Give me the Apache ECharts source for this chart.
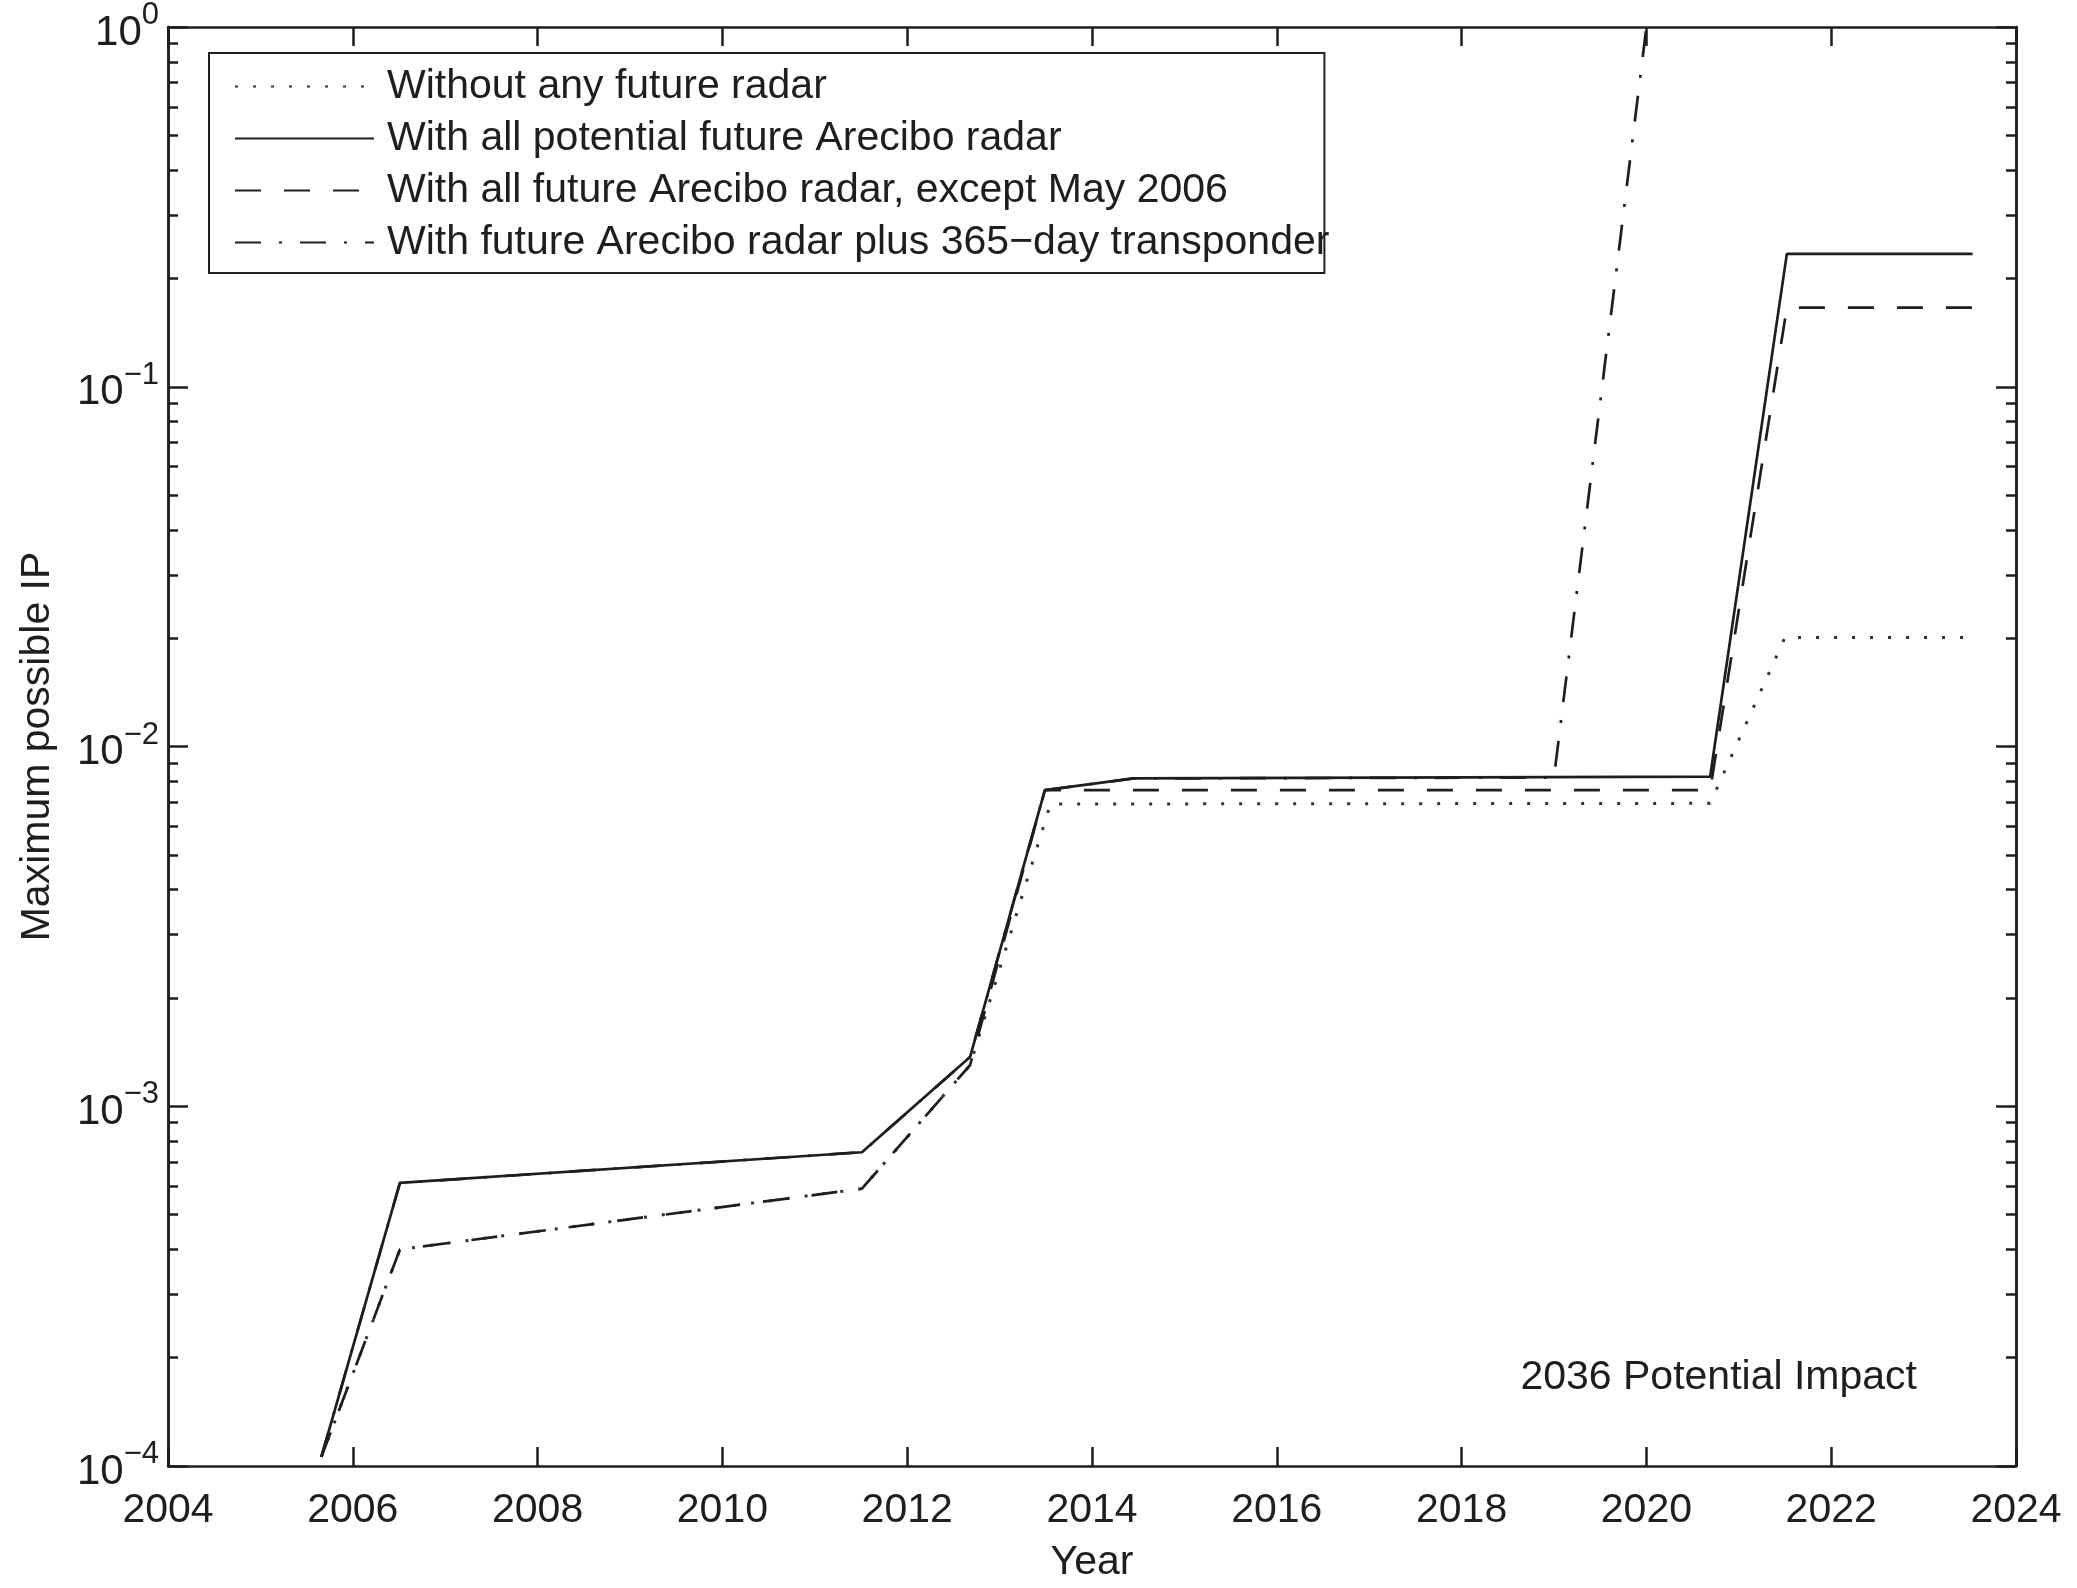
<!DOCTYPE html>
<html>
<head>
<meta charset="utf-8">
<script src="https://cdn.jsdelivr.net/npm/echarts@6/dist/echarts.min.js"></script>
<style>
  html, body { margin: 0; padding: 0; background: #fff; }
  #chart { width: 2077px; height: 1588px; }
</style>
</head>
<body>
<div id="chart"></div>
<script>
// values (year, maximum possible impact probability)
const noRadarYears = [2005.66, 2006.51, 2011.51, 2012.68, 2013.55, 2020.69, 2021.5, 2023.53];
const noRadarIP = [1.06e-4, 4.0e-4, 5.9e-4, 1.3e-3, 6.92e-3, 6.95e-3, 0.0201, 0.0201];

const allRadarYears = [2005.66, 2006.51, 2011.51, 2012.68, 2013.49, 2014.45, 2020.69, 2021.52, 2023.53];
const allRadarIP = [1.06e-4, 6.12e-4, 7.45e-4, 1.37e-3, 7.56e-3, 8.15e-3, 8.25e-3, 0.234, 0.234];

const noMayYears = [2005.66, 2006.51, 2011.51, 2012.68, 2013.49, 2020.69, 2021.52, 2023.53];
const noMayIP = [1.06e-4, 4.0e-4, 5.9e-4, 1.3e-3, 7.56e-3, 7.56e-3, 0.166, 0.166];

const transponderYears = [2005.66, 2006.51, 2011.51, 2012.68, 2013.49, 2014.45, 2019.0, 2020.0];
const transponderIP = [1.06e-4, 6.12e-4, 7.45e-4, 1.37e-3, 7.56e-3, 8.15e-3, 8.2e-3, 1.0];

const seriesNames = [
    'Without any future radar',
    'With all potential future Arecibo radar',
    'With all future Arecibo radar, except May 2006',
    'With future Arecibo radar plus 365\u2212day transponder'
];

const yearTicks = [2004, 2024, 2];
const decadeTicks = [1e-4, 1e-3, 1e-2, 1e-1, 1];
const minorTicks = [];
decadeTicks.slice(0, 4).forEach(d => {
    for (let k = 2; k <= 9; k++) minorTicks.push(+(d * k).toPrecision(3));
});

const FONT = 'Liberation Sans';
const INK = '#1e1e1e';

function pairs(xs, ys) {
    return xs.map((x, i) => [x, ys[i]]);
}

function yLabel(v) {
    const e = Math.round(Math.log10(v));
    return '{b|10}{s|' + (e === 0 ? '0' : '\u2212' + (-e)) + '}';
}

const chart = echarts.init(document.getElementById('chart'), null, { renderer: 'canvas' });

const baseY = {
    type: 'log',
    logBase: 10,
    min: 1e-4,
    max: 1,
    splitLine: { show: false },
    axisLine: { show: true, lineStyle: { color: INK, width: 2.5 } }
};

function lineSeries(name, xs, ys, dash, z, color, width) {
    return {
        name: name,
        type: 'line',
        symbol: 'none',
        z: z,
        color: color,
        itemStyle: { color: color },
        lineStyle: { color: color, width: width, type: dash },
        data: pairs(xs, ys)
    };
}

const option = {
    animation: false,
    backgroundColor: '#fff',
    textStyle: { fontFamily: FONT },
    title: {
        text: '2036 Potential Impact',
        right: 155,
        top: 1352,
        textStyle: { fontFamily: FONT, fontSize: 41, fontWeight: 'normal', color: INK }
    },
    grid: { left: 168, right: 61, top: 24, bottom: 107, containLabel: false },
    legend: {
        orient: 'vertical',
        left: 209,
        top: 53,
        padding: [13, -5, 10, 25],
        itemWidth: 139,
        itemHeight: 14,
        itemGap: 11,
        borderColor: INK,
        borderWidth: 2,
        backgroundColor: '#fff',
        itemStyle: { opacity: 0 },
        textStyle: { fontFamily: FONT, fontSize: 41, lineHeight: 41, color: INK, padding: [0, 0, 0, 8] },
        data: seriesNames
    },
    xAxis: [
        {
            type: 'value',
            min: yearTicks[0],
            max: yearTicks[1],
            interval: yearTicks[2],
            position: 'bottom',
            name: 'Year',
            nameLocation: 'middle',
            nameGap: 76,
            nameTextStyle: { fontFamily: FONT, fontSize: 41, color: INK },
            axisLine: { lineStyle: { color: INK, width: 2.5 } },
            axisTick: { inside: true, length: 19, lineStyle: { color: INK, width: 2.5 } },
            axisLabel: { margin: 24, fontFamily: FONT, fontSize: 41, color: INK, formatter: v => String(v) },
            splitLine: { show: false }
        },
        {
            type: 'value',
            min: yearTicks[0],
            max: yearTicks[1],
            interval: yearTicks[2],
            position: 'top',
            axisLine: { lineStyle: { color: INK, width: 2.5 } },
            axisTick: { inside: true, length: 19, lineStyle: { color: INK, width: 2.5 } },
            axisLabel: { show: false },
            splitLine: { show: false }
        }
    ],
    yAxis: [
        Object.assign({}, baseY, {
            position: 'left',
            name: 'Maximum possible IP',
            nameLocation: 'middle',
            nameRotate: 90,
            nameGap: 110,
            nameTextStyle: { fontFamily: FONT, fontSize: 41, color: INK },
            axisTick: { inside: true, length: 20, customValues: decadeTicks, lineStyle: { color: INK, width: 2.5 } },
            axisLabel: {
                margin: 9,
                customValues: decadeTicks,
                formatter: yLabel,
                color: INK,
                rich: {
                    b: { fontFamily: FONT, fontSize: 42, color: INK, verticalAlign: 'bottom', lineHeight: 54 },
                    s: { fontFamily: FONT, fontSize: 31, color: INK, verticalAlign: 'top', lineHeight: 54 }
                }
            }
        }),
        Object.assign({}, baseY, {
            position: 'left',
            axisTick: { inside: true, length: 10, customValues: minorTicks, lineStyle: { color: INK, width: 2.5 } },
            axisLabel: { show: false }
        }),
        Object.assign({}, baseY, {
            position: 'right',
            axisTick: { inside: true, length: 20, customValues: decadeTicks, lineStyle: { color: INK, width: 2.5 } },
            axisLabel: { show: false }
        }),
        Object.assign({}, baseY, {
            position: 'right',
            axisTick: { inside: true, length: 10, customValues: minorTicks, lineStyle: { color: INK, width: 2.5 } },
            axisLabel: { show: false }
        })
    ],
    series: [
        lineSeries(seriesNames[0], noRadarYears, noRadarIP, [3, 15], 2, '#333', 3),
        lineSeries(seriesNames[1], allRadarYears, allRadarIP, 'solid', 5, INK, 2.7),
        lineSeries(seriesNames[2], noMayYears, noMayIP, [26, 23], 3, INK, 2.7),
        lineSeries(seriesNames[3], transponderYears, transponderIP, [26, 18, 3, 18], 4, INK, 2.7)
    ]
};

chart.setOption(option);
</script>
</body>
</html>
